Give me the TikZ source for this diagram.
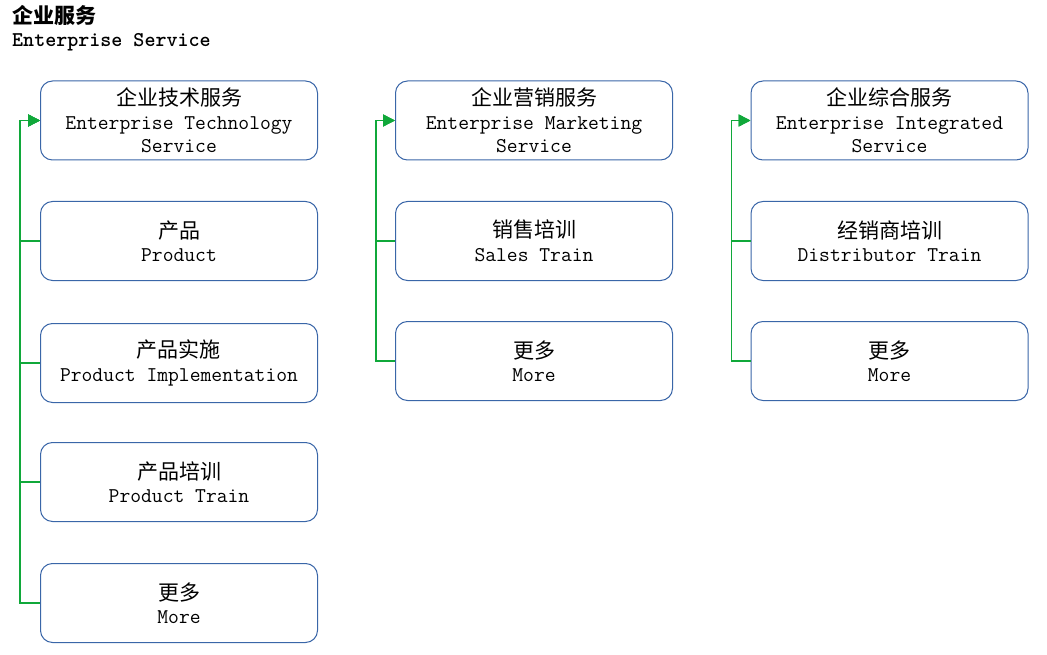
\documentclass[tikz,border=0pt]{standalone}
\usepackage{fontspec}
\newfontfamily\cjk{Noto Sans CJK SC}
\usetikzlibrary{arrows.meta}
\definecolor{boxblue}{HTML}{3A66A8}
\definecolor{lgreen}{HTML}{10A83A}
\newcommand{\zh}[1]{{\cjk\fontsize{21}{23.5}\selectfont #1}}
\tikzset{
  box/.style={draw=boxblue, line width=1pt, rounded corners=12pt, minimum width=277pt, minimum height=79pt, align=center, inner sep=0pt, font=\ttfamily\fontsize{21}{23.5}\selectfont, text=black},
  conn/.style={draw=lgreen, line width=1.5pt, -{Triangle[length=12pt,width=12pt]}}
}
\begin{document}
\begin{tikzpicture}[x=1pt,y=-1pt]
\useasboundingbox (0,0) rectangle (1047,655);
\node[anchor=north west, inner sep=0pt, align=left, font=\ttfamily\bfseries\fontsize{21}{23.5}\selectfont] (title) at (12,5) {{\cjk\fontsize{21}{23.5}\selectfont 企业服务}\\Enterprise Service};
% column 1
\node[box] (a0) at (179,120.5) {\zh{企业技术服务}\\Enterprise Technology\\Service};
\node[box] (a1) at (179,241) {\zh{产品}\\Product};
\node[box] (a2) at (179,363) {\zh{产品实施}\\Product Implementation};
\node[box] (a3) at (179,482) {\zh{产品培训}\\Product Train};
\node[box] (a4) at (179,603) {\zh{更多}\\More};
% column 2
\node[box] (b0) at (534,120.5) {\zh{企业营销服务}\\Enterprise Marketing\\Service};
\node[box] (b1) at (534,241) {\zh{销售培训}\\Sales Train};
\node[box] (b2) at (534,361) {\zh{更多}\\More};
% column 3
\node[box] (c0) at (889.5,120.5) {\zh{企业综合服务}\\Enterprise Integrated\\Service};
\node[box] (c1) at (889.5,241) {\zh{经销商培训}\\Distributor Train};
\node[box] (c2) at (889.5,361) {\zh{更多}\\More};
% connectors
\foreach \n in {a1,a2,a3,a4}{\draw[conn] (\n.west) -- ++(-20,0) |- (a0.west);}
\foreach \n in {b1,b2}{\draw[conn] (\n.west) -- ++(-19,0) |- (b0.west);}
\foreach \n in {c1,c2}{\draw[conn] (\n.west) -- ++(-19,0) |- (c0.west);}
\end{tikzpicture}
\end{document}
